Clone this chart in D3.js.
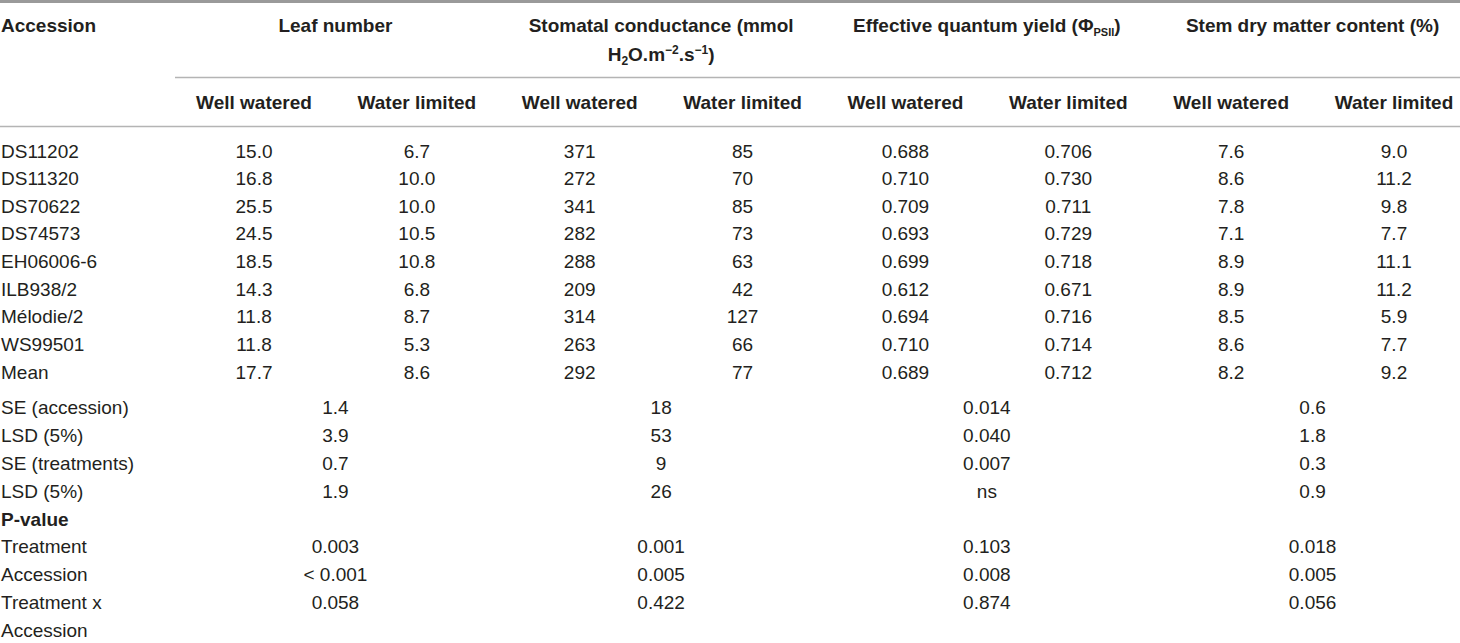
<!DOCTYPE html>
<html>
<head>
<meta charset="utf-8">
<script src="https://cdn.jsdelivr.net/npm/d3@7"></script>
<style>
  body { margin: 0; background: #fff; }
  svg { display: block; }
  text { fill: #231f20; }
  .head { font-family: "Liberation Sans", Arial, sans-serif; font-weight: bold; font-size: 19px; }
  .cell, .stat { font-family: "Liberation Sans", Arial, sans-serif; font-size: 19px; }
</style>
</head>
<body>
<div id="table"></div>
<script>
// table values
let accessions = ['DS11202', 'DS11320', 'DS70622', 'DS74573', 'EH06006-6', 'ILB938/2', 'Mélodie/2', 'WS99501', 'Mean'];
let leafWW = [15.0, 16.8, 25.5, 24.5, 18.5, 14.3, 11.8, 11.8, 17.7];
let leafWL = [6.7, 10.0, 10.0, 10.5, 10.8, 6.8, 8.7, 5.3, 8.6];
let stomWW = [371, 272, 341, 282, 288, 209, 314, 263, 292];
let stomWL = [85, 70, 85, 73, 63, 42, 127, 66, 77];
let yieldWW = [0.688, 0.710, 0.709, 0.693, 0.699, 0.612, 0.694, 0.710, 0.689];
let yieldWL = [0.706, 0.730, 0.711, 0.729, 0.718, 0.671, 0.716, 0.714, 0.712];
let dryWW = [7.6, 8.6, 7.8, 7.1, 8.9, 8.9, 8.5, 8.6, 8.2];
let dryWL = [9.0, 11.2, 9.8, 7.7, 11.1, 11.2, 5.9, 7.7, 9.2];

let statLabels = ['SE (accession)', 'LSD (5%)', 'SE (treatments)', 'LSD (5%)', 'P-value', 'Treatment', 'Accession', 'Treatment x', 'Accession'];
let leafStats = ['1.4', '3.9', '0.7', '1.9', '', '0.003', '< 0.001', '0.058', ''];
let stomStats = ['18', '53', '9', '26', '', '0.001', '0.005', '0.422', ''];
let yieldStats = ['0.014', '0.040', '0.007', 'ns', '', '0.103', '0.008', '0.874', ''];
let dryStats = ['0.6', '1.8', '0.3', '0.9', '', '0.018', '0.005', '0.056', ''];

let groups = ['leaf', 'stom', 'yield', 'dry'];
let treatments = ['Well watered', 'Water limited'];

let width = 1460, height = 643;

let svg = d3.select('#table').append('svg')
    .attr('width', width)
    .attr('height', height);

// column positions: one point per sub column, groups centred between pairs
let subCols = [];
groups.forEach(g => treatments.forEach(t => subCols.push(g + '|' + t)));
let x = d3.scalePoint().domain(subCols).range([254, 1394]);
let groupX = g => (x(g + '|' + treatments[0]) + x(g + '|' + treatments[1])) / 2;

// row positions (baselines)
let yData = d3.scalePoint().domain(d3.range(accessions.length)).range([157.5, 378.5]);
let yStat = d3.scalePoint().domain(d3.range(statLabels.length)).range([414, 637]);

// rules
function rule(x1, x2, y, w, color) {
    svg.append('line')
        .attr('x1', x1).attr('x2', x2)
        .attr('y1', y).attr('y2', y)
        .attr('stroke', color)
        .attr('stroke-width', w);
}
rule(0, width, 1.5, 3, '#9a9a9a');
rule(175, width, 77.5, 1.5, '#b4b4b4');
rule(0, width, 126.5, 1.5, '#b4b4b4');

// header
let head = svg.append('g').attr('class', 'head');
head.append('text').attr('x', 1).attr('y', 32).text('Accession');
head.append('text').attr('x', groupX('leaf')).attr('y', 32).attr('text-anchor', 'middle').text('Leaf number');

let stomHead = head.append('text').attr('x', groupX('stom')).attr('y', 32).attr('text-anchor', 'middle');
stomHead.append('tspan').attr('x', groupX('stom')).text('Stomatal conductance (mmol');
let stomLine2 = stomHead.append('tspan').attr('x', groupX('stom')).attr('dy', 29);
stomLine2.append('tspan').text('H');
stomLine2.append('tspan').attr('font-size', 12).attr('dy', 4).text('2');
stomLine2.append('tspan').attr('dy', -4).text('O.m');
stomLine2.append('tspan').attr('font-size', 12).attr('dy', -7).text('\u22122');
stomLine2.append('tspan').attr('dy', 7).text('.s');
stomLine2.append('tspan').attr('font-size', 12).attr('dy', -7).text('\u22121');
stomLine2.append('tspan').attr('dy', 7).text(')');

let yieldHead = head.append('text').attr('x', groupX('yield')).attr('y', 32).attr('text-anchor', 'middle');
yieldHead.append('tspan').text('Effective quantum yield (\u03A6');
yieldHead.append('tspan').attr('font-size', 11).attr('dy', 4).text('PSII');
yieldHead.append('tspan').attr('dy', -4).text(')');

head.append('text').attr('x', groupX('dry')).attr('y', 32).attr('text-anchor', 'middle').text('Stem dry matter content (%)');

head.selectAll('text.sub')
    .data(subCols)
    .enter().append('text')
    .attr('class', 'sub')
    .attr('x', d => x(d))
    .attr('y', 109)
    .attr('text-anchor', 'middle')
    .text(d => d.split('|')[1]);

// body
let series = {
    'leaf|Well watered': leafWW.map(d3.format('.1f')),
    'leaf|Water limited': leafWL.map(d3.format('.1f')),
    'stom|Well watered': stomWW.map(d3.format('d')),
    'stom|Water limited': stomWL.map(d3.format('d')),
    'yield|Well watered': yieldWW.map(d3.format('.3f')),
    'yield|Water limited': yieldWL.map(d3.format('.3f')),
    'dry|Well watered': dryWW.map(d3.format('.1f')),
    'dry|Water limited': dryWL.map(d3.format('.1f'))
};

let body = svg.append('g').attr('class', 'cell');
body.selectAll('text.acc')
    .data(accessions)
    .enter().append('text')
    .attr('class', 'acc')
    .attr('x', 1)
    .attr('y', (d, i) => yData(i))
    .text(d => d);

subCols.forEach(col => {
    body.selectAll(null)
        .data(series[col])
        .enter().append('text')
        .attr('x', x(col))
        .attr('y', (d, i) => yData(i))
        .attr('text-anchor', 'middle')
        .text(d => d);
});

// statistics block
let stats = {leaf: leafStats, stom: stomStats, yield: yieldStats, dry: dryStats};
let statG = svg.append('g').attr('class', 'stat');
statG.selectAll('text.lab')
    .data(statLabels)
    .enter().append('text')
    .attr('class', 'lab')
    .attr('x', 1)
    .attr('y', (d, i) => yStat(i))
    .attr('font-weight', d => d === 'P-value' ? 'bold' : null)
    .text(d => d);

groups.forEach(g => {
    statG.selectAll(null)
        .data(stats[g])
        .enter().append('text')
        .attr('x', groupX(g))
        .attr('y', (d, i) => yStat(i))
        .attr('text-anchor', 'middle')
        .text(d => d);
});
</script>
</body>
</html>
